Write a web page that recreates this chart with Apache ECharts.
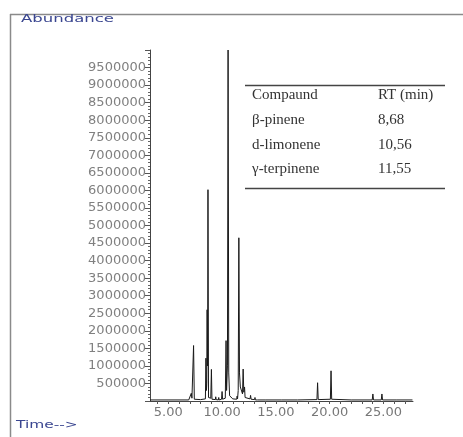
<!DOCTYPE html>
<html>
<head>
<meta charset="utf-8">
<script src="https://cdn.jsdelivr.net/npm/echarts@6/dist/echarts.min.js"></script>
<style>
html,body{margin:0;padding:0;background:#fff;}
#chart{width:463px;height:437px;}
</style>
</head>
<body>
<div id="chart"></div>
<script>
// Retention time (min)
const rtMin = [3.3, 6.9, 7.05, 7.14, 7.2, 7.3, 7.35, 7.42, 7.6, 8.0, 8.45, 8.50, 8.55, 8.58, 8.61, 8.64, 8.66, 8.69, 8.74, 8.95, 9.01, 9.06, 9.2, 9.38, 9.41, 9.45, 9.65, 9.69, 9.73, 9.95, 10.0, 10.05, 10.3, 10.37, 10.42, 10.5, 10.56, 10.62, 10.7, 11.0, 11.36, 11.40, 11.44, 11.5, 11.56, 11.62, 11.7, 11.9, 11.96, 12.02, 12.05, 12.09, 12.14, 12.6, 12.65, 12.7, 13.02, 13.06, 13.1, 13.3, 13.34, 13.38, 14.0, 15.5, 17.0, 18.82, 18.88, 18.94, 20.07, 20.13, 20.19, 22.0, 23.96, 24.02, 24.08, 24.8, 24.86, 24.92, 26.18, 26.23, 26.28, 27.7];
// Abundance (counts)
const abundance = [30000, 30000, 50000, 220000, 80000, 100000, 1580000, 50000, 30000, 40000, 60000, 1220000, 300000, 500000, 2600000, 1000000, 1400000, 6020000, 100000, 80000, 900000, 50000, 40000, 40000, 120000, 40000, 30000, 100000, 30000, 50000, 270000, 50000, 80000, 1720000, 300000, 1000000, 10000000, 800000, 150000, 60000, 50000, 140000, 60000, 300000, 4650000, 800000, 400000, 200000, 910000, 250000, 200000, 400000, 100000, 60000, 160000, 50000, 40000, 100000, 30000, 30000, 60000, 30000, 30000, 30000, 30000, 40000, 520000, 40000, 50000, 860000, 50000, 30000, 30000, 200000, 30000, 30000, 200000, 30000, 30000, 80000, 30000, 30000];
const xTickLabels = [5, 10, 15, 20, 25];
const xMinorTicks = [4, 5, 6, 7, 8, 9, 10, 11, 12, 13, 14, 15, 16, 17, 18, 19, 20, 21, 22, 23, 24, 25, 26, 27];
const yTickLabels = [500000, 1000000, 1500000, 2000000, 2500000, 3000000, 3500000, 4000000, 4500000, 5000000, 5500000, 6000000, 6500000, 7000000, 7500000, 8000000, 8500000, 9000000, 9500000];
const tableHeader = ['Compaund', 'RT (min)'];
const compounds = ['β-pinene', 'd-limonene', 'γ-terpinene'];
const rtValues = ['8,68', '10,56', '11,55'];

const chart = echarts.init(document.getElementById('chart'), null, {renderer: 'canvas'});
const pairs = rtMin.map((t, i) => [t, abundance[i]]);

const serif = '"Liberation Serif", "Times New Roman", serif';
const tableText = [];
const rowY = [122, 147, 171];
tableText.push({type: 'text', left: 252, top: 97 - 9, style: {text: tableHeader[0], font: '15px ' + serif, fill: '#333'}});
tableText.push({type: 'text', left: 378, top: 97 - 9, style: {text: tableHeader[1], font: '15px ' + serif, fill: '#333'}});
compounds.forEach((c, i) => {
  tableText.push({type: 'text', left: 252, top: rowY[i] - 9, style: {text: c, font: '15px ' + serif, fill: '#333'}});
  tableText.push({type: 'text', left: 378, top: rowY[i] - 9, style: {text: rtValues[i], font: '15px ' + serif, fill: '#333'}});
});

chart.setOption({
  animation: false,
  backgroundColor: '#fff',
  grid: {left: 150, right: 50, top: 50, bottom: 36, containLabel: false},
  xAxis: {
    type: 'value', min: 3.3, max: 27.75,
    axisLine: {show: true, lineStyle: {color: '#444', width: 1}},
    axisTick: {show: true, length: 3, customValues: xMinorTicks, lineStyle: {color: '#555'}},
    axisLabel: {customValues: xTickLabels, formatter: v => v.toFixed(2), color: '#777', fontFamily: 'DejaVu Sans', fontSize: 13, margin: 5},
    splitLine: {show: false}
  },
  yAxis: {
    type: 'value', min: 0, max: 10000000, interval: 500000,
    axisLine: {show: true, lineStyle: {color: '#444', width: 1}},
    axisTick: {show: true, length: 5, lineStyle: {color: '#555'}},
    minorTick: {show: true, splitNumber: 5, length: 2, lineStyle: {color: '#666'}},
    axisLabel: {customValues: yTickLabels, formatter: v => String(v), color: '#808080', fontFamily: 'DejaVu Sans', fontSize: 13, margin: 4},
    splitLine: {show: false}
  },
  series: [{
    type: 'line', data: pairs, showSymbol: false, symbol: 'none',
    lineStyle: {color: '#1a1a1a', width: 1}, clip: true
  }],
  graphic: [
    {type: 'line', shape: {x1: 10, y1: 14.5, x2: 463, y2: 14.5}, style: {stroke: '#8a8a8a', lineWidth: 1.5}},
    {type: 'line', shape: {x1: 10.5, y1: 14, x2: 10.5, y2: 437}, style: {stroke: '#8a8a8a', lineWidth: 1.5}},
    {type: 'text', x: 21, y: 14, scaleX: 1.5, style: {text: 'Abundance', font: '11px "DejaVu Sans"', fill: '#3a4690'}},
    {type: 'text', x: 16, y: 420, scaleX: 1.4, style: {text: 'Time-->', font: '11px "DejaVu Sans"', fill: '#3a4690'}},
    {type: 'line', shape: {x1: 245, y1: 85.5, x2: 445, y2: 85.5}, style: {stroke: '#444', lineWidth: 1.5}},
    {type: 'line', shape: {x1: 245, y1: 188.5, x2: 445, y2: 188.5}, style: {stroke: '#444', lineWidth: 1.5}}
  ].concat(tableText)
});
</script>
</body>
</html>
